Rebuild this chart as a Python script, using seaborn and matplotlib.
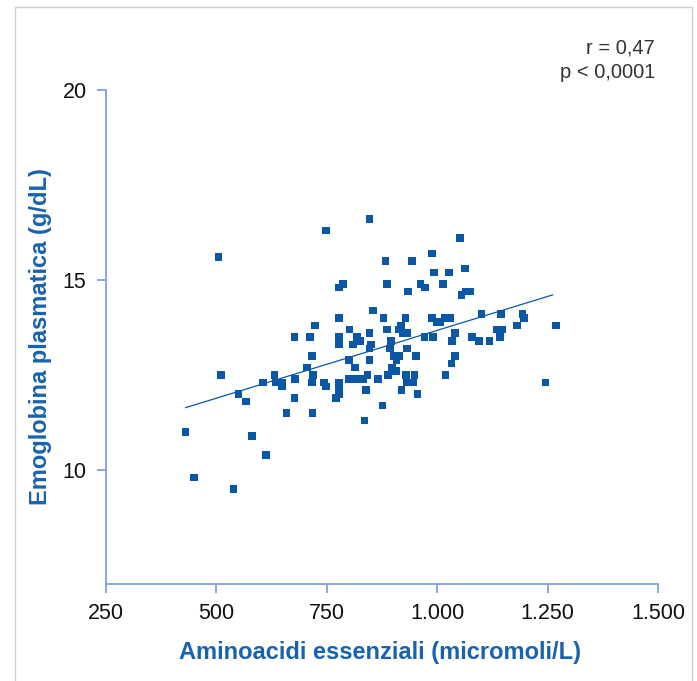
import matplotlib
matplotlib.use("Agg")
import matplotlib.pyplot as plt
from matplotlib.patches import Rectangle
import seaborn as sns
import pandas as pd

# ---- data ----
aminoacidi = [748, 505, 786, 777, 777, 723, 801, 677, 712, 777, 819, 777, 809, 716, 800,
              705, 814, 510, 632, 719, 678, 799, 818, 605, 634, 648, 716, 743, 778, 648,
              748, 778, 550, 778, 677, 771, 567, 659, 718, 430, 580, 612, 449, 539,
              847, 1051, 988, 883, 943, 993, 1027, 1063, 886, 934, 962, 972, 1013, 1055,
              1065, 1074, 855, 878, 928, 988, 999, 1017, 1030, 886, 918, 913, 847, 825,
              923, 932, 971, 991, 1040, 850, 847, 896, 893, 1034, 1079, 1094, 932, 902,
              913, 908, 952, 847, 1040, 1032, 898, 907, 809, 833, 842, 866, 888, 929,
              949, 1019, 839, 932, 946, 919, 955, 876, 835, 1006, 1100, 1145, 1193, 1197,
              1118, 1136, 1148, 1142, 1181, 1269, 1245]
emoglobina = [16.3, 15.6, 14.9, 14.8, 14.0, 13.8, 13.7, 13.5, 13.5, 13.5, 13.5, 13.3, 13.3, 13.0, 12.9,
              12.7, 12.7, 12.5, 12.5, 12.5, 12.4, 12.4, 12.4, 12.3, 12.3, 12.3, 12.3, 12.3, 12.3, 12.2,
              12.2, 12.2, 12.0, 12.0, 11.9, 11.9, 11.8, 11.5, 11.5, 11.0, 10.9, 10.4, 9.8, 9.5,
              16.6, 16.1, 15.7, 15.5, 15.5, 15.2, 15.2, 15.3, 14.9, 14.7, 14.9, 14.8, 14.9, 14.6,
              14.7, 14.7, 14.2, 14.0, 14.0, 14.0, 13.9, 14.0, 14.0, 13.7, 13.8, 13.7, 13.6, 13.4,
              13.6, 13.6, 13.5, 13.5, 13.6, 13.3, 13.2, 13.4, 13.2, 13.4, 13.5, 13.4, 13.2, 13.0,
              13.0, 12.9, 13.0, 12.9, 13.0, 12.8, 12.7, 12.6, 12.4, 12.4, 12.5, 12.4, 12.5, 12.5,
              12.5, 12.5, 12.1, 12.3, 12.3, 12.1, 12.0, 11.7, 11.3, 13.9, 14.1, 14.1, 14.1, 14.0,
              13.4, 13.7, 13.7, 13.5, 13.8, 13.8, 12.3]

fit_x = [430, 1262]
fit_y = [11.64, 14.61]

x_ticks = [250, 500, 750, 1000, 1250, 1500]
x_tick_labels = ["250", "500", "750", "1.000", "1.250", "1.500"]
y_ticks = [10, 15, 20]
y_tick_labels = ["10", "15", "20"]

x_label = "Aminoacidi essenziali (micromoli/L)"
y_label = "Emoglobina plasmatica (g/dL)"
stats_text = ["r = 0,47", "p < 0,0001"]

df = pd.DataFrame({"x": aminoacidi, "y": emoglobina})
fit_df = pd.DataFrame({"x": fit_x, "y": fit_y})

# ---- style ----
sns.set_theme(style="white")
plt.rcParams["font.family"] = ["Liberation Sans", "DejaVu Sans"]

point_color = "#0a57a6"
axis_color = "#7ea3dc"
label_color = "#1862ae"

fig = plt.figure(figsize=(6.97, 6.81), dpi=100)
ax = fig.add_axes([106 / 697, 1 - 584 / 681, (658 - 106) / 697, (584 - 90) / 681])

sns.lineplot(data=fit_df, x="x", y="y", ax=ax, color=point_color, linewidth=0.9)
sns.scatterplot(data=df, x="x", y="y", ax=ax, marker="s", s=30, color=point_color,
                linewidth=0, edgecolor="none", zorder=3)

ax.set_xlim(250, 1500)
ax.set_ylim(7, 20)
ax.set_xticks(x_ticks)
ax.set_xticklabels(x_tick_labels)
ax.set_yticks(y_ticks)
ax.set_yticklabels(y_tick_labels)

for side in ["top", "right"]:
    ax.spines[side].set_visible(False)
for side in ["left", "bottom"]:
    ax.spines[side].set_color(axis_color)
    ax.spines[side].set_linewidth(1.3)

ax.tick_params(axis="both", which="major", direction="out", length=6.5, width=1.3,
               color=axis_color, labelsize=15.5, labelcolor="#111111", pad=7.5,
               bottom=True, left=True)

ax.set_xlabel(x_label, fontsize=17, fontweight="bold", color=label_color)
ax.set_ylabel(y_label, fontsize=17, fontweight="bold", color=label_color)
ax.xaxis.label.set_va("center")
ax.yaxis.label.set_va("center")
ax.xaxis.set_label_coords(0.497, (584 - 652) / 494)
ax.yaxis.set_label_coords((41 - 106) / 552, 0.5)

fig.text(655 / 697, 1 - 48 / 681, stats_text[0], ha="right", va="center",
         fontsize=14.5, color="#333333")
fig.text(655 / 697, 1 - 73 / 681, stats_text[1], ha="right", va="center",
         fontsize=14.5, color="#333333")

# light frame around the figure (open at the bottom, as in the reference)
frame = Rectangle((15 / 697, -0.05), (692 - 15) / 697, 1 - 7 / 681 + 0.05,
                  transform=fig.transFigure, fill=False, edgecolor="#cfcfcf",
                  linewidth=1.0, clip_on=False)
fig.patches.append(frame)

fig.savefig("out.png", dpi=100)
